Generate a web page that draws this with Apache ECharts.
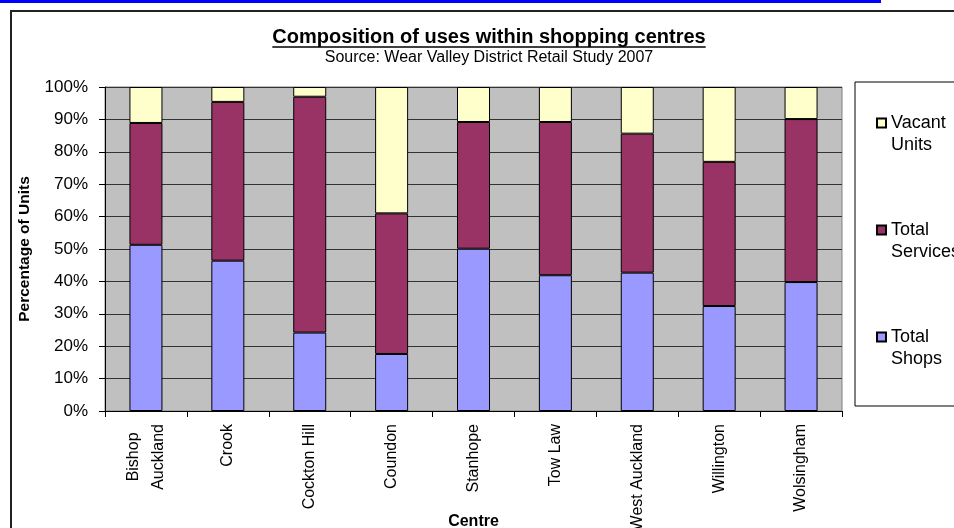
<!DOCTYPE html>
<html>
<head>
<meta charset="utf-8">
<script src="https://cdn.jsdelivr.net/npm/echarts@6/dist/echarts.min.js"></script>
<style>
  html, body { margin: 0; padding: 0; background: #fff; }
  #chart { width: 954px; height: 528px; }
</style>
</head>
<body>
<div id="chart"></div>
<script>
const categories = ['Bishop\nAuckland', 'Crook', 'Cockton Hill', 'Coundon', 'Stanhope', 'Tow Law', 'West Auckland', 'Willington', 'Wolsingham'];
const totalShops = [51.3, 46.4, 24.2, 17.6, 50.1, 41.9, 42.7, 32.4, 39.8];
const totalServices = [37.6, 49.0, 72.8, 43.4, 39.1, 47.3, 42.9, 44.5, 50.3];
const vacantUnits = [11.1, 4.6, 3.0, 39.0, 10.8, 10.8, 14.4, 23.1, 9.9];
const yTicks = [0, 10, 20, 30, 40, 50, 60, 70, 80, 90, 100];

const FONT = 'Liberation Sans, Arial, sans-serif';
const titleText = 'Composition of uses within shopping centres';
const subText = 'Source: Wear Valley District Retail Study 2007';

function measure(text, font) {
  const c = document.createElement('canvas').getContext('2d');
  c.font = font;
  return c.measureText(text).width;
}
const titleCenter = 489;
const titleW = measure(titleText, 'bold 20px "Liberation Sans"');

const chart = echarts.init(document.getElementById('chart'), null, { renderer: 'canvas' });
chart.setOption({
  animation: false,
  backgroundColor: '#fff',
  title: [
    { text: titleText, left: titleCenter, top: 27, textAlign: 'center', padding: 0,
      textStyle: { fontFamily: FONT, fontSize: 20, fontWeight: 'bold', color: '#000' } },
    { text: subText, left: titleCenter, top: 50, textAlign: 'center', padding: 0,
      textStyle: { fontFamily: FONT, fontSize: 16, fontWeight: 'normal', color: '#000' } }
  ],
  graphic: [
    { type: 'rect', shape: { x: 0, y: 0, width: 881, height: 3 }, style: { fill: '#0000FF' }, silent: true },
    { type: 'rect', shape: { x: 11, y: 11, width: 960, height: 530 }, style: { fill: null, stroke: '#222', lineWidth: 2 }, silent: true, z: -1 },
    { type: 'line', shape: { x1: titleCenter - titleW / 2, y1: 47, x2: titleCenter + titleW / 2, y2: 47 }, style: { stroke: '#000', lineWidth: 1.5 }, silent: true }
  ],
  legend: {
    orient: 'vertical',
    left: 855,
    top: 82,
    data: ['Vacant Units', 'Total Services', 'Total Shops'],
    formatter: function (name) { return ' \n' + name.replace(' ', '\n'); },
    icon: 'rect',
    itemWidth: 9,
    itemHeight: 9,
    itemGap: 41,
    padding: [8, 40, 36, 21],
    borderColor: '#000',
    borderWidth: 1,
    backgroundColor: '#fff',
    textStyle: { fontFamily: FONT, fontSize: 18, color: '#000', lineHeight: 22 }
  },
  grid: {
    left: 105, right: 112, top: 87, bottom: 117,
    outerBoundsMode: 'none', containLabel: false,
    show: true, backgroundColor: '#C0C0C0', borderColor: '#808080', borderWidth: 1
  },
  xAxis: {
    type: 'category',
    data: categories,
    name: 'Centre',
    nameLocation: 'middle',
    nameGap: 103,
    nameMoveOverlap: false,
    nameTextStyle: { fontFamily: FONT, fontSize: 16, fontWeight: 'bold', color: '#000' },
    axisLine: { show: true, lineStyle: { color: '#000', width: 1 } },
    axisTick: { show: true, length: 6, lineStyle: { color: '#000' } },
    axisLabel: {
      rotate: 90, margin: 13, interval: 0,
      formatter: function (v) { return v.split('\n').map(s => '{c|' + s + '}').join('\n'); },
      rich: { c: { fontFamily: FONT, fontSize: 16, color: '#000', lineHeight: 25, align: 'center' } }
    }
  },
  yAxis: {
    type: 'value',
    min: 0, max: 100, interval: 10,
    name: 'Percentage of Units',
    nameLocation: 'middle',
    nameGap: 72,
    nameRotate: 90,
    nameMoveOverlap: false,
    nameTextStyle: { fontFamily: FONT, fontSize: 15.5, fontWeight: 'bold', color: '#000' },
    axisLine: { show: true, lineStyle: { color: '#000', width: 1 } },
    axisTick: { show: true, length: 6, lineStyle: { color: '#000' } },
    axisLabel: {
      margin: 17, fontFamily: FONT, fontSize: 17, color: '#000',
      formatter: function (v) { return yTicks.indexOf(v) >= 0 ? v + '%' : ''; }
    },
    splitLine: { show: true, lineStyle: { color: '#333', width: 1 } }
  },
  series: [
    { name: 'Total Shops', type: 'bar', stack: 'all', data: totalShops, barWidth: 33,
      itemStyle: { color: '#9999FF', borderColor: '#000', borderWidth: 1 } },
    { name: 'Total Services', type: 'bar', stack: 'all', data: totalServices, barWidth: 33,
      itemStyle: { color: '#993366', borderColor: '#000', borderWidth: 1 } },
    { name: 'Vacant Units', type: 'bar', stack: 'all', data: vacantUnits, barWidth: 33,
      itemStyle: { color: '#FFFFCC', borderColor: '#000', borderWidth: 1 } }
  ]
});
</script>
</body>
</html>
